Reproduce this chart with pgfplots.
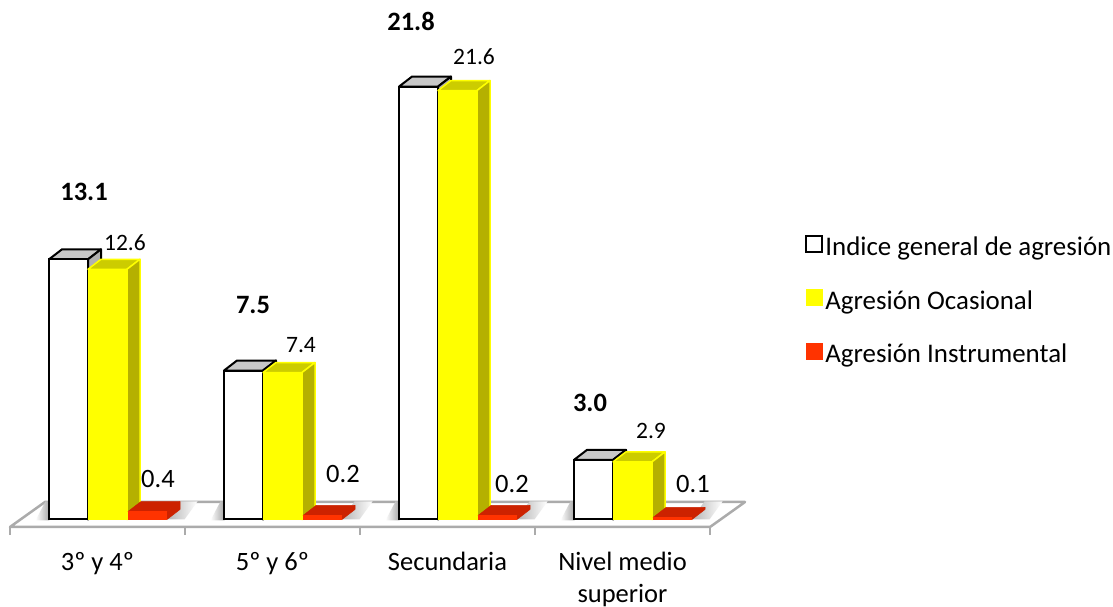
\documentclass[border=0pt]{standalone}
\usepackage{fontspec}
\setmainfont{Carlito}
\usepackage{pgfplots}
\pgfplotsset{compat=1.18}
\usepackage{pgfplotstable}

\definecolor{floorline}{HTML}{ABABAB}
\definecolor{yface}{HTML}{FFFF00}
\definecolor{ytop}{HTML}{CCCC00}
\definecolor{yside}{HTML}{B5B000}
\definecolor{rface}{HTML}{FF3300}
\definecolor{rdark}{HTML}{CC2200}
\definecolor{wtop}{HTML}{C8C8C8}
\definecolor{wside}{HTML}{B0B0B0}

\pgfplotstableread{
cat general ocasional instrumental
0 13.1 12.6 0.4
1 7.5 7.4 0.2
2 21.8 21.6 0.2
3 3.0 2.9 0.1
}\agresion

% top and side faces of one bar: category, left edge (pt from centre), value, top, side, line
\newcommand{\faces}[6]{
  \filldraw[fill=#4,draw=#6,line join=round]
    ([xshift=#2pt]axis cs:#1,#3) -- ++(13pt,10pt) -- ++(39pt,0pt) -- ++(-13pt,-10pt) -- cycle;
  \filldraw[fill=#5,draw=#6,line join=round]
    ([xshift=#2pt+39pt]axis cs:#1,#3) -- ++(13pt,10pt)
    -- ([xshift=#2pt+52pt,yshift=10pt]axis cs:#1,0) -- ([xshift=#2pt+39pt]axis cs:#1,0) -- cycle;
}
% soft shadow on the floor either side of a group
\newcommand{\floorshade}[1]{
  \shade[left color=white,right color=black!35] ([xshift=-62pt,yshift=-1pt]axis cs:#1,0) -- ++(14pt,0pt) -- ++(0pt,19pt) -- ++(-4pt,0pt) -- cycle;
  \shade[left color=black!30,right color=white] ([xshift=69pt,yshift=0pt]axis cs:#1,0) -- ++(18pt,0pt) -- ++(13pt,18pt) -- ++(-18pt,0pt) -- cycle;
}

\begin{document}
\begin{tikzpicture}[x=1pt,y=1pt]
\path[use as bounding box] (0,0) rectangle (1113,607);
\begin{axis}[
  at={(10pt,80pt)}, anchor=south west,
  scale only axis, width=700pt, height=527pt,
  xmin=-0.5, xmax=3.5, ymin=-0.38, ymax=26.16,
  clip=false,
  axis lines*=left,
  y axis line style={draw=none},
  ytick=\empty,
  xtick={0,1,2,3},
  xticklabels={{3º y 4º},{5º y 6º},{Secundaria},{Nivel medio\\superior}},
  minor xtick={-0.5,0.5,1.5,2.5,3.5},
  major tick length=0pt,
  minor tick length=8pt,
  tick align=outside,
  x axis line style={draw=floorline,line width=2.5pt,-},
  every minor tick/.style={draw=floorline,line width=1.5pt},
  xticklabel style={font=\fontsize{26.5}{32}\selectfont,align=center,anchor=north,yshift=-22pt},
  legend style={at={(rel axis cs:1.136,0.5551)},anchor=north west,draw=none,fill=none,
    font=\fontsize{26.9}{28}\selectfont,row sep=29.5pt,inner sep=0pt,
    /tikz/every even column/.append style={column sep=6pt}},
  legend cell align=left,
  legend image code/.code={\path[#1] (0pt,-5pt) rectangle (16pt,11pt);},
]
% floor
\filldraw[fill=white,draw=floorline,line width=2.5pt,line join=round]
  (axis cs:-0.5,-0.38) -- ++(35pt,25pt) -- ++(700pt,0pt) -- ++(-35pt,-25pt) -- cycle;
\floorshade{0}\floorshade{1}\floorshade{2}\floorshade{3}

\faces{0}{-48.5}{13.1}{wtop}{wside}{black,line width=2pt}
\faces{1}{-48.5}{7.5}{wtop}{wside}{black,line width=2pt}
\faces{2}{-48.5}{21.8}{wtop}{wside}{black,line width=2pt}
\faces{3}{-48.5}{3.0}{wtop}{wside}{black,line width=2pt}
\addplot[ybar,bar width=39pt,bar shift=-29pt,fill=white,draw=black,line width=2pt]
  table[x=cat,y=general]{\agresion};
\addlegendentry{Indice general de agresión}

\faces{0}{-9.5}{12.6}{ytop}{yside}{yface,line width=1.5pt}
\faces{1}{-9.5}{7.4}{ytop}{yside}{yface,line width=1.5pt}
\faces{2}{-9.5}{21.6}{ytop}{yside}{yface,line width=1.5pt}
\faces{3}{-9.5}{2.9}{ytop}{yside}{yface,line width=1.5pt}
\addplot[ybar,bar width=39pt,bar shift=10.5pt,fill=yface,draw=yface,line width=1.5pt]
  table[x=cat,y=ocasional]{\agresion};
\addlegendentry{Agresión Ocasional}

\faces{0}{30.5}{0.4}{rdark}{rdark}{rdark,line width=.5pt}
\faces{1}{30.5}{0.2}{rdark}{rdark}{rdark,line width=.5pt}
\faces{2}{30.5}{0.2}{rdark}{rdark}{rdark,line width=.5pt}
\faces{3}{30.5}{0.1}{rdark}{rdark}{rdark,line width=.5pt}
\addplot[ybar,bar width=38pt,bar shift=49.5pt,fill=rface,draw=rface,line width=.5pt]
  table[x=cat,y=instrumental]{\agresion};
\addlegendentry{Agresión Instrumental}
\end{axis}

\begin{scope}[every node/.style={font=\fontsize{23.5}{28}\selectfont,inner sep=0pt}]
\node[font=\fontsize{26.5}{28}\selectfont\bfseries] at (84,415) {13.1};
\node[font=\fontsize{26.5}{28}\selectfont\bfseries] at (253,302) {7.5};
\node[font=\fontsize{26.5}{28}\selectfont\bfseries] at (411,586) {21.8};
\node[font=\fontsize{26.5}{28}\selectfont\bfseries] at (590,204) {3.0};
\node at (125,364) {12.6};
\node at (301,262) {7.4};
\node at (474,550) {21.6};
\node at (651,176) {2.9};
\node[font=\fontsize{26.5}{28}\selectfont] at (158,128) {0.4};
\node[font=\fontsize{26.5}{28}\selectfont] at (343,133) {0.2};
\node[font=\fontsize{26.5}{28}\selectfont] at (512,123) {0.2};
\node[font=\fontsize{26.5}{28}\selectfont] at (693,123) {0.1};
\end{scope}
\end{tikzpicture}
\end{document}
